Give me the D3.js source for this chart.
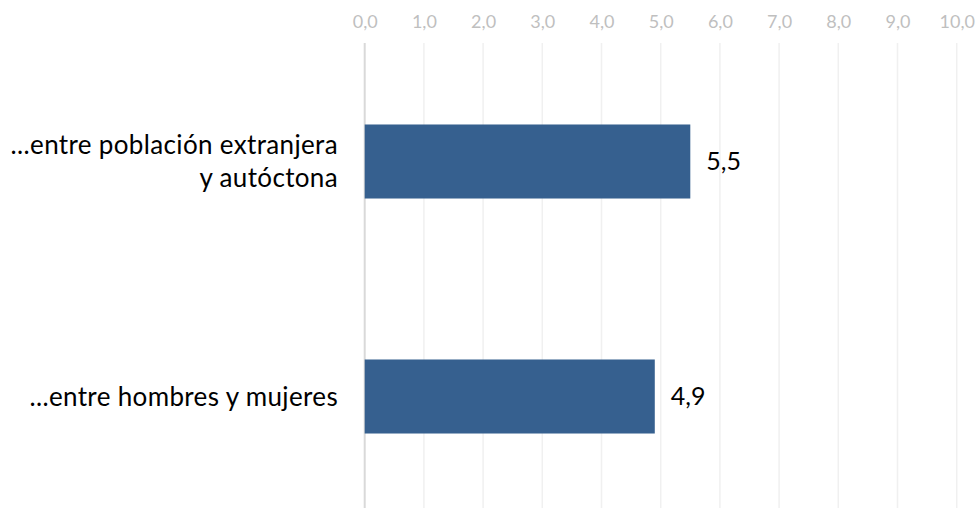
<!DOCTYPE html>
<html>
<head>
<meta charset="utf-8">
<script src="https://cdn.jsdelivr.net/npm/d3@7"></script>
<style>
  body { margin: 0; background: #fff; }
  svg { display: block; font-family: Lato, sans-serif; }
</style>
</head>
<body>
<svg width="979" height="508"></svg>
<script>
// categories (each one split in display lines) and values
const categories = ['extranjera', 'sexo'];
const categoryLines = [
    ['...entre población extranjera', 'y autóctona'],
    ['...entre hombres y mujeres']
];
const values = [5.5, 4.9];
const tickValues = [0, 1, 2, 3, 4, 5, 6, 7, 8, 9, 10];

const fmt = (v) => v.toFixed(1).replace('.', ',');

const svg = d3.select('svg');
const chartLeft = 364.7;
const chartRight = 956.7;
const chartTop = 43;
const chartBottom = 508;

const xScale = d3.scaleLinear()
    .domain([0, 10])
    .range([chartLeft, chartRight]);

const yScale = d3.scaleBand()
    .domain(categories)
    .range([44, 514])
    .paddingInner(0.685)
    .paddingOuter(0.3425);

// grid
svg.append('g')
    .selectAll('line')
    .data(tickValues)
    .enter()
    .append('line')
    .attr('x1', (d) => xScale(d))
    .attr('x2', (d) => xScale(d))
    .attr('y1', chartTop)
    .attr('y2', chartBottom)
    .attr('stroke', (d) => d === 0 ? '#d9d9d9' : '#f0f0f0')
    .attr('stroke-width', (d) => d === 0 ? 2 : 1.5);

// top axis labels
const axis = svg.append('g')
    .attr('transform', 'translate(0, 28)')
    .call(d3.axisTop(xScale).tickValues(tickValues).tickFormat(fmt).tickSize(0).tickPadding(0));
axis.select('.domain').remove();
axis.selectAll('text')
    .attr('font-family', 'Lato, sans-serif')
    .attr('font-size', 18)
    .attr('fill', '#bfbfbf');

// bars
svg.append('g')
    .selectAll('rect')
    .data(values)
    .enter()
    .append('rect')
    .attr('x', xScale(0))
    .attr('y', (d, i) => yScale(categories[i]))
    .attr('width', (d) => xScale(d) - xScale(0))
    .attr('height', yScale.bandwidth())
    .attr('fill', '#36608f');

// value labels
svg.append('g')
    .selectAll('text')
    .data(values)
    .enter()
    .append('text')
    .attr('x', (d) => xScale(d) + 16)
    .attr('y', (d, i) => yScale(categories[i]) + yScale.bandwidth() / 2)
    .attr('dy', '0.35em')
    .attr('font-size', 25)
    .attr('fill', '#000')
    .text(fmt);

// category labels
const lineH = 33;
categoryLines.forEach((lines, i) => {
    const cy = yScale(categories[i]) + yScale.bandwidth() / 2;
    const t = svg.append('text')
        .attr('text-anchor', 'end')
        .attr('font-size', 26)
        .attr('letter-spacing', 0.35)
        .attr('fill', '#000');
    lines.forEach((l, j) => {
        t.append('tspan')
            .attr('x', 338)
            .attr('y', cy + (j - (lines.length - 1) / 2) * lineH)
            .attr('dy', '0.35em')
            .text(l);
    });
});
</script>
</body>
</html>
